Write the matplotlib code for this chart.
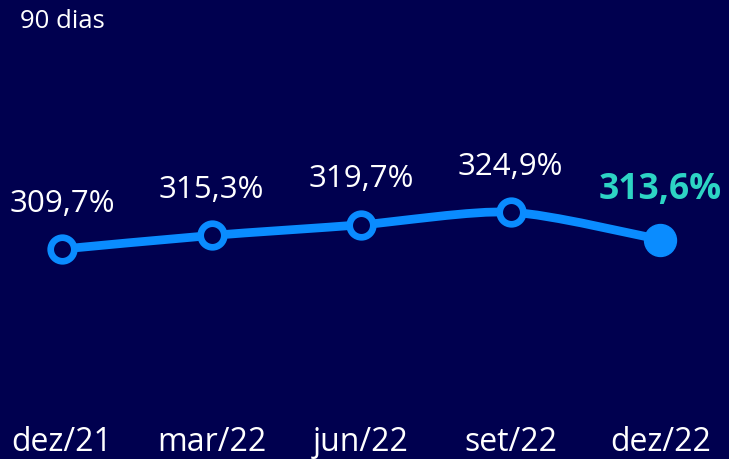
import matplotlib.pyplot as plt
from matplotlib.path import Path
from matplotlib.patches import PathPatch
import numpy as np

# data
periods = ["dez/21", "mar/22", "jun/22", "set/22", "dez/22"]
values = [309.7, 315.3, 319.7, 324.9, 313.6]
labels = ["309,7%", "315,3%", "319,7%", "324,9%", "313,6%"]

bg = "#00004F"
blue = "#0A8CFF"
teal = "#2DD4C4"

plt.rcParams['font.family'] = ['Open Sans', 'DejaVu Sans']

fig = plt.figure(figsize=(7.29, 4.59), dpi=100)
fig.patch.set_facecolor(bg)
ax = fig.add_axes([0, 0, 1, 1])
ax.set_facecolor(bg)
ax.set_xlim(-0.415, 4.46)
ax.set_ylim(223.3, 412.2)
ax.axis("off")

x = np.arange(len(values))
y = np.array(values)

# smooth path through the points (cubic bezier, catmull-rom style)
verts = [(x[0], y[0])]
codes = [Path.MOVETO]
t = 0.13
for i in range(len(x) - 1):
    p0 = (x[max(i - 1, 0)], y[max(i - 1, 0)])
    p1 = (x[i], y[i])
    p2 = (x[i + 1], y[i + 1])
    p3 = (x[min(i + 2, len(x) - 1)], y[min(i + 2, len(x) - 1)])
    c1 = (p1[0] + (p2[0] - p0[0]) * t, p1[1] + (p2[1] - p0[1]) * t)
    c2 = (p2[0] - (p3[0] - p1[0]) * t, p2[1] - (p3[1] - p1[1]) * t)
    verts += [c1, c2, p2]
    codes += [Path.CURVE4] * 3
ax.add_patch(PathPatch(Path(verts, codes), facecolor="none", edgecolor=blue,
                       lw=6.3, capstyle="round", zorder=2))

ax.plot(x[:-1], y[:-1], "o", ms=17, mfc=bg, mec=blue, mew=4.8, zorder=3)
ax.plot(x[-1], y[-1], "o", ms=23, mfc=blue, mec=blue, zorder=3)

for i in range(len(x) - 1):
    ax.annotate(labels[i], (x[i], y[i]), xytext=(0, 22), textcoords="offset points",
                ha="center", va="bottom", color="white", fontsize=22.5)
ax.annotate(labels[-1], (x[-1], y[-1]), xytext=(0, 23), textcoords="offset points",
            ha="center", va="bottom", color=teal, fontsize=25.5, fontweight="bold")

for i, p in enumerate(periods):
    ax.text(x[i], 0.0, p, transform=ax.get_xaxis_transform(), ha="center",
            va="bottom", color="white", fontsize=23)

fig.text(20 / 729, 1 - 9 / 459, "90 dias", ha="left", va="top", color="white", fontsize=18.5)

plt.savefig("out.png", dpi=100, facecolor=bg)
